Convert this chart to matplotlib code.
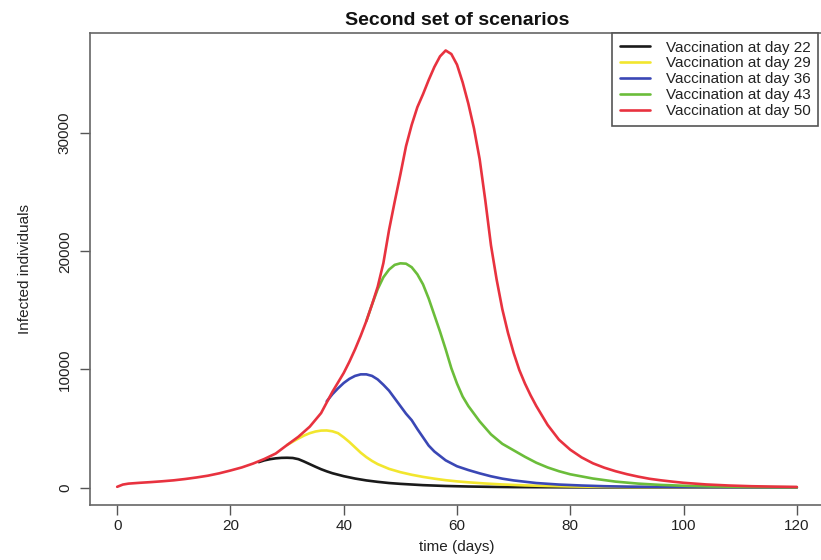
import matplotlib
matplotlib.use("Agg")
import matplotlib.pyplot as plt

plt.rcParams['font.family'] = ['Liberation Sans', 'DejaVu Sans']

# values (days, infected individuals)
t_day50 = [0, 1, 2, 4, 6, 8, 10, 12, 14, 16, 18, 20, 22, 24, 26, 28, 30, 32, 34, 36, 38,
           40, 41, 42, 43, 44, 45, 46, 47, 48, 49, 50, 51, 52, 53, 54, 55, 56, 57, 58, 59,
           60, 61, 62, 63, 64, 65, 66, 67, 68, 69, 70, 71, 72, 73, 74, 76, 78, 80, 82,
           84, 86, 88, 90, 92, 94, 96, 98, 100, 104, 108, 112, 116, 120]
y_day50 = [60, 250, 330, 400, 460, 530, 610, 720, 850, 1000, 1200, 1440, 1700, 2030,
           2420, 2880, 3600, 4300, 5150, 6300, 8100, 9700, 10650, 11700, 12850, 14100,
           15500, 17000, 19000, 21800, 24200, 26500, 28900, 30700, 32200, 33300, 34500,
           35600, 36500, 37000, 36700, 35800, 34300, 32500, 30400, 27800, 24300, 20500,
           17600, 15100, 13100, 11400, 9950, 8800, 7800, 6900, 5300, 4050, 3200, 2550,
           2050, 1680, 1380, 1130, 920, 740, 610, 500, 400, 260, 170, 110, 75, 50]

t_day43 = [44, 45, 46, 47, 48, 49, 50, 51, 52, 53, 54, 55, 56, 57, 58, 59, 60, 61, 62,
           64, 66, 68, 70, 72, 74, 76, 78, 80, 84, 88, 92, 96, 100, 105, 110, 115, 120]
y_day43 = [14100, 15500, 16800, 17800, 18450, 18850, 18980, 18950, 18650, 18050, 17200,
           16000, 14600, 13200, 11700, 10100, 8800, 7700, 6900, 5600, 4500, 3700, 3150,
           2600, 2100, 1700, 1380, 1120, 760, 500, 330, 220, 150, 90, 55, 35, 20]

t_day36 = [37, 38, 39, 40, 41, 42, 43, 44, 45, 46, 47, 48, 49, 50, 51, 52, 53, 54, 55,
           56, 58, 60, 62, 64, 66, 68, 70, 74, 78, 82, 86, 90, 95, 100, 110, 120]
y_day36 = [7300, 7900, 8400, 8850, 9200, 9450, 9580, 9580, 9450, 9150, 8700, 8200, 7550,
           6900, 6250, 5700, 4950, 4250, 3550, 3050, 2300, 1800, 1480, 1200, 950, 750,
           600, 380, 250, 170, 110, 75, 50, 30, 15, 10]

t_day29 = [30, 31, 32, 33, 34, 35, 36, 37, 38, 39, 40, 41, 42, 43, 44, 45, 46, 48, 50,
           52, 54, 56, 58, 60, 62, 65, 68, 72, 76, 80, 85, 90, 100, 110, 120]
y_day29 = [3600, 3880, 4150, 4400, 4600, 4740, 4820, 4830, 4760, 4600, 4250, 3850, 3400,
           2950, 2570, 2250, 1980, 1580, 1300, 1080, 900, 750, 620, 520, 440, 340, 260,
           180, 130, 90, 60, 40, 20, 10, 5]

t_day22 = [25, 26, 27, 28, 29, 30, 31, 32, 33, 34, 35, 36, 37, 38, 40, 42, 44, 46, 48,
           50, 54, 58, 62, 66, 70, 80, 90, 100, 120]
y_day22 = [2150, 2300, 2400, 2470, 2510, 2520, 2500, 2400, 2200, 1980, 1760, 1550, 1370,
           1210, 960, 760, 600, 480, 380, 310, 200, 130, 85, 55, 35, 15, 8, 4, 2]

labels = ['Vaccination at day 22', 'Vaccination at day 29', 'Vaccination at day 36',
          'Vaccination at day 43', 'Vaccination at day 50']
colores = ['#1a1a1a', '#f2e62e', '#3a47b5', '#6bbd3a', '#e8323f']

fig = plt.figure(figsize=(8.21, 5.6), dpi=100)
# the right edge of the frame falls just outside the picture, as in the original
ax = fig.add_axes([90/821, 1 - 505/560, (824 - 90)/821, (505 - 33)/560])

series = [(t_day22, y_day22), (t_day29, y_day29), (t_day36, y_day36),
          (t_day43, y_day43), (t_day50, y_day50)]
for (t, y), lab, c in zip(series, labels, colores):
    ax.plot(t, y, color=c, lw=1.9, label=lab, solid_capstyle='round',
            solid_joinstyle='round')

ax.set_xlim(-4.8, 124.8)
ax.set_ylim(-1480, 38480)
ax.set_xticks([0, 20, 40, 60, 80, 100, 120])
ax.set_yticks([0, 10000, 20000, 30000])
ax.set_yticklabels(['0', '10000', '20000', '30000'], rotation=90, va='center')
ax.tick_params(direction='out', length=7, width=1.0, colors='#555555',
               labelcolor='#222222', labelsize=11)
ax.tick_params(axis='x', pad=3)
ax.tick_params(axis='y', pad=6)

for s in ax.spines.values():
    s.set_color('#666666')
    s.set_linewidth(1.2)

ax.set_xlabel('time (days)', fontsize=11, color='#222222', labelpad=5)
ax.set_ylabel('Infected individuals', fontsize=11, color='#222222', labelpad=19)
ax.set_title('Second set of scenarios', fontsize=14, fontweight='bold', color='#111111', pad=6)

leg = ax.legend(loc='upper right', bbox_to_anchor=(818/821, 1 - 33/560),
                bbox_transform=fig.transFigure, borderaxespad=0, fancybox=False,
                fontsize=11, handlelength=2.0, handletextpad=1.0, labelspacing=0.12,
                borderpad=0.5, framealpha=1)
leg.get_frame().set_edgecolor('#555555')
leg.get_frame().set_linewidth(1.2)
for txt in leg.get_texts():
    txt.set_color('#222222')

plt.savefig('out.png', dpi=100)
